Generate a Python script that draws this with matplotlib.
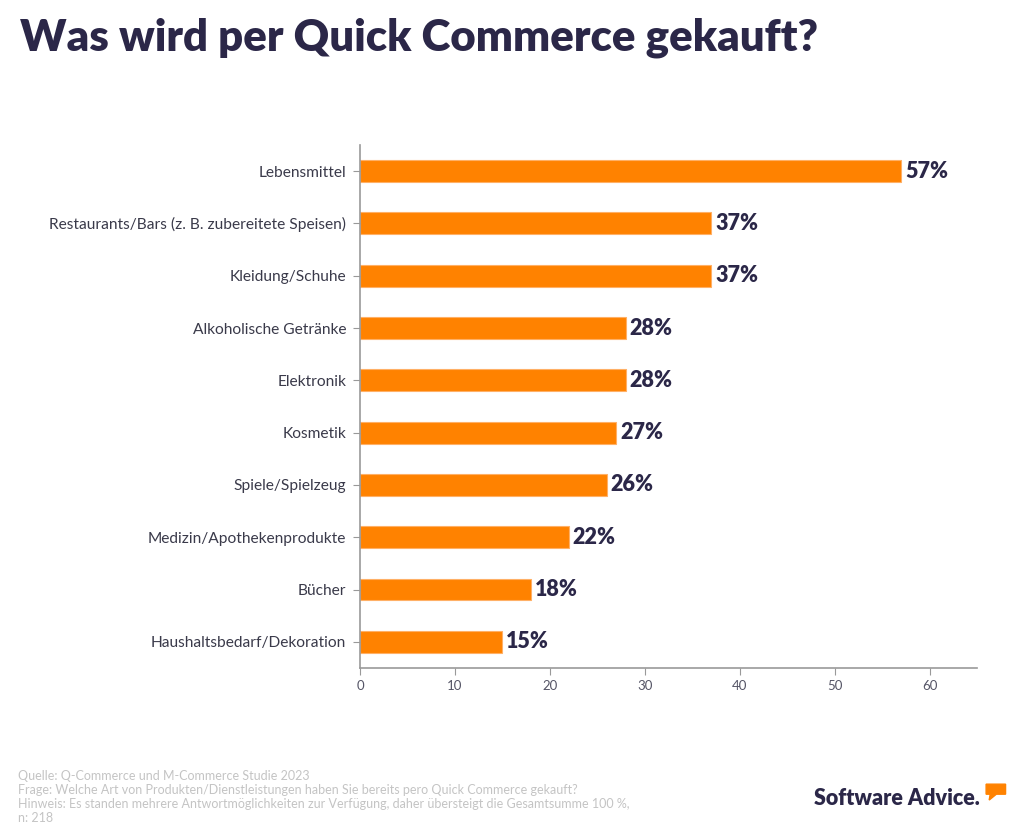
import matplotlib
matplotlib.use("Agg")
import matplotlib.pyplot as plt
from matplotlib.patches import Polygon

# data
categories = ["Lebensmittel", "Restaurants/Bars (z. B. zubereitete Speisen)", "Kleidung/Schuhe",
              "Alkoholische Getränke", "Elektronik", "Kosmetik", "Spiele/Spielzeug",
              "Medizin/Apothekenprodukte", "Bücher", "Haushaltsbedarf/Dekoration"]
values = [57, 37, 37, 28, 28, 27, 26, 22, 18, 15]
xticks = [0, 10, 20, 30, 40, 50, 60]

navy = "#2b2748"
orange = "#ff8200"
plt.rcParams['font.family'] = ['Lato', 'DejaVu Sans']

fig = plt.figure(figsize=(10.24, 8.36), dpi=100)
ax = fig.add_axes([0.3516, 0.2010, 0.6025, 0.6256])

ypos = list(range(len(categories)))
ax.barh(ypos, values, height=0.42, color=orange, edgecolor="#ffb066", linewidth=0.8)
for y, v in zip(ypos, values):
    ax.text(v + 0.4, y, f"{v}%", va="center", ha="left", fontsize=15.5,
            fontweight="heavy", color=navy)

ax.set_ylim(len(categories) - 0.5, -0.5)
ax.set_xlim(0, 65)
ax.set_yticks(ypos)
ax.set_yticklabels(categories, fontsize=11.2, color="#3a3a4a")
ax.set_xticks(xticks)
ax.tick_params(axis="x", labelsize=9.5, colors="#555566", length=5, color="#999999")
ax.tick_params(axis="y", length=5, color="#999999", pad=5)
for s in ["top", "right"]:
    ax.spines[s].set_visible(False)
for s in ["left", "bottom"]:
    ax.spines[s].set_color("#999999")
    ax.spines[s].set_linewidth(1.2)

fig.text(0.02, 0.955, "Was wird per Quick Commerce gekauft?", fontsize=31.5,
         fontweight="heavy", color=navy, va="center")

footer = ("Quelle: Q-Commerce und M-Commerce Studie 2023\n"
          "Frage: Welche Art von Produkten/Dienstleistungen haben Sie bereits pero Quick Commerce gekauft?\n"
          "Hinweis: Es standen mehrere Antwortmöglichkeiten zur Verfügung, daher übersteigt die Gesamtsumme 100 %,\n"
          "n: 218")
fig.text(0.018, 0.014, footer, fontsize=9, color="#c4c4c4", va="bottom", linespacing=1.2)

fig.text(0.795, 0.045, "Software Advice.", fontsize=15.5, fontweight="heavy",
         color=navy, va="center")
bubble = Polygon([[0.963, 0.062], [0.982, 0.062], [0.982, 0.050], [0.973, 0.050],
                  [0.966, 0.043], [0.967, 0.050], [0.963, 0.050]],
                 closed=True, transform=fig.transFigure, color=orange)
fig.patches.append(bubble)

fig.savefig("out.png", dpi=100)
